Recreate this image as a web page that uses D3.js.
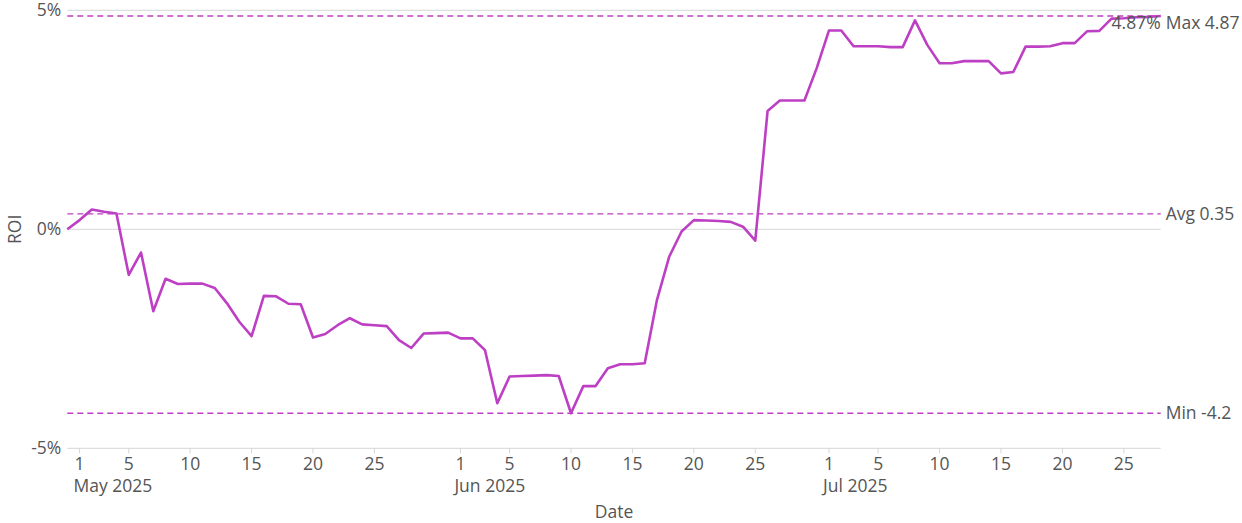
<!DOCTYPE html>
<html>
<head>
<meta charset="utf-8">
<script src="https://cdn.jsdelivr.net/npm/d3@7"></script>
<style>
  html, body { margin: 0; padding: 0; background: #fff; }
  svg { display: block; font-family: "Open Sans", "Noto Sans", sans-serif; }
</style>
</head>
<body>
<svg id="chart" width="1242" height="523"></svg>
<script>
// ---- data ----
const startDate = "2025-04-30";
const roiValues = [
  0.00, 0.21, 0.45, 0.40, 0.36, -1.04, -0.53, -1.87, -1.13, -1.25,
  -1.24, -1.24, -1.34, -1.69, -2.11, -2.44, -1.52, -1.53, -1.70, -1.71,
  -2.47, -2.39, -2.19, -2.03, -2.17, -2.19, -2.21, -2.53, -2.71, -2.38,
  -2.37, -2.36, -2.49, -2.49, -2.76, -3.97, -3.36, -3.35, -3.34, -3.33,
  -3.35, -4.20, -3.58, -3.58, -3.17, -3.08, -3.08, -3.06, -1.61, -0.62,
  -0.05, 0.21, 0.20, 0.19, 0.17, 0.06, -0.26, 2.70, 2.94, 2.94,
  2.94, 3.68, 4.54, 4.54, 4.18, 4.18, 4.18, 4.16, 4.16, 4.77,
  4.21, 3.79, 3.79, 3.84, 3.84, 3.84, 3.56, 3.59, 4.17, 4.17,
  4.18, 4.25, 4.25, 4.52, 4.53, 4.81, 4.82, 4.84, 4.85, 4.87
];
const refLabels = ["Max 4.87", "Avg 0.35", "Min -4.2"];
const refValues = [4.87, 0.35, -4.2];
const yTickValues = [-5, 0, 5];
const xTickDates = [
  "2025-05-01","2025-05-05","2025-05-10","2025-05-15","2025-05-20","2025-05-25",
  "2025-06-01","2025-06-05","2025-06-10","2025-06-15","2025-06-20","2025-06-25",
  "2025-07-01","2025-07-05","2025-07-10","2025-07-15","2025-07-20","2025-07-25"
];
const lastLabel = "4.87%";

// ---- build ----
const parse = d3.utcParse("%Y-%m-%d");
const d0 = parse(startDate);
const data = roiValues.map((v, i) => ({ date: d3.utcDay.offset(d0, i), v }));

const svg = d3.select("#chart");
const L = 67.3, R = 1160.7, T = 10.3, B = 448.3;
const lineColor = "#bd3fc4";
const textColor = "#555";
const fs = 17.5;

const x = d3.scaleUtc()
  .domain([data[0].date, data[data.length - 1].date])
  .range([L, R]);
const y = d3.scaleLinear().domain([-5, 5]).range([B, T]);

// grid lines
svg.append("g").selectAll("line")
  .data(yTickValues)
  .join("line")
  .attr("x1", L).attr("x2", R)
  .attr("y1", d => y(d)).attr("y2", d => y(d))
  .attr("stroke", "#d6d6d6").attr("stroke-width", 1);

// y tick labels
svg.append("g").selectAll("text")
  .data(yTickValues)
  .join("text")
  .attr("x", L - 6).attr("y", d => y(d))
  .attr("dy", "0.35em")
  .attr("text-anchor", "end")
  .attr("fill", textColor).attr("font-size", fs)
  .text(d => d + "%");

// x axis ticks
const xt = xTickDates.map(parse);
const xAxis = svg.append("g").attr("transform", `translate(0,${B})`);
xAxis.selectAll("line")
  .data(xt)
  .join("line")
  .attr("x1", d => x(d)).attr("x2", d => x(d))
  .attr("y1", 0).attr("y2", 5)
  .attr("stroke", "#d6d6d6");
xAxis.selectAll("text.day")
  .data(xt)
  .join("text")
  .attr("class", "day")
  .attr("x", d => x(d)).attr("y", 22)
  .attr("text-anchor", "middle")
  .attr("fill", textColor).attr("font-size", fs)
  .text(d => d3.utcFormat("%-d")(d));
xAxis.selectAll("text.month")
  .data(xt.filter(d => d.getUTCDate() === 1))
  .join("text")
  .attr("class", "month")
  .attr("x", d => x(d) - 6).attr("y", 44)
  .attr("text-anchor", "start")
  .attr("fill", textColor).attr("font-size", fs)
  .text(d => d3.utcFormat("%b %Y")(d));

// axis titles
svg.append("text")
  .attr("x", (L + R) / 2).attr("y", 518)
  .attr("text-anchor", "middle")
  .attr("fill", textColor).attr("font-size", fs)
  .text("Date");
svg.append("text")
  .attr("transform", `translate(21,${(T + B) / 2}) rotate(-90)`)
  .attr("text-anchor", "middle")
  .attr("fill", textColor).attr("font-size", fs)
  .text("ROI");

// reference lines
svg.append("g").selectAll("line")
  .data(refValues)
  .join("line")
  .attr("x1", L).attr("x2", R)
  .attr("y1", d => y(d)).attr("y2", d => y(d))
  .attr("stroke", lineColor).attr("stroke-width", 1.3)
  .attr("stroke-dasharray", "6,4");
svg.append("g").selectAll("text")
  .data(refValues)
  .join("text")
  .attr("x", R + 5)
  .attr("y", (d, i) => y(d) + (i === 0 ? 6.5 : 0))
  .attr("dy", "0.35em")
  .attr("fill", textColor).attr("font-size", fs)
  .text((d, i) => refLabels[i]);

// main line
svg.append("path")
  .datum(data)
  .attr("fill", "none")
  .attr("stroke", lineColor)
  .attr("stroke-width", 2.6)
  .attr("stroke-linejoin", "round")
  .attr("d", d3.line().x(d => x(d.date)).y(d => y(d.v)));

// last value label
const last = data[data.length - 1];
svg.append("text")
  .attr("x", x(last.date)).attr("y", y(last.v) + 6.5)
  .attr("dy", "0.35em")
  .attr("text-anchor", "end")
  .attr("fill", textColor).attr("font-size", fs)
  .text(lastLabel);
</script>
</body>
</html>
